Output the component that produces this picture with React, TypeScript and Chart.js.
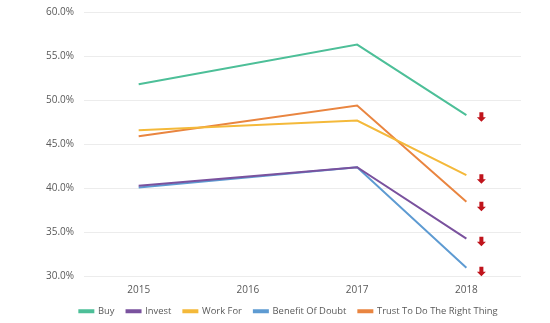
import React, { useEffect, useRef } from "react";
import { Chart, registerables } from "chart.js";

Chart.register(...registerables);

const years = ["2015", "2016", "2017", "2018"];
const buy = [51.8, null, 56.3, 48.3];
const invest = [40.3, null, 42.4, 34.3];
const workFor = [46.6, null, 47.7, 41.5];
const benefitOfDoubt = [40.1, null, 42.4, 31.0];
const trustRight = [45.9, null, 49.4, 38.5];
const arrowOffsets = [2, 3, 4, 4, 5];

const seriesNames = ["Buy", "Invest", "Work For", "Benefit Of Doubt", "Trust To Do The Right Thing"];
const seriesColors = ["#4dbf98", "#7a529e", "#f4b93a", "#5e9bd2", "#e98540"];

const arrowPlugin = {
  id: "downArrows",
  afterDatasetsDraw(chart: any) {
    const ctx = chart.ctx;
    const xs = chart.scales.x;
    const ys = chart.scales.y;
    const x = xs.getPixelForValue(3) + 15;
    chart.data.datasets.forEach((ds: any, i: number) => {
      const v = ds.data[3];
      const y = ys.getPixelForValue(v) + arrowOffsets[i];
      ctx.save();
      ctx.fillStyle = "#c0141c";
      ctx.beginPath();
      ctx.moveTo(x - 2, y - 5);
      ctx.lineTo(x + 2, y - 5);
      ctx.lineTo(x + 2, y);
      ctx.lineTo(x + 4.5, y);
      ctx.lineTo(x, y + 4.5);
      ctx.lineTo(x - 4.5, y);
      ctx.lineTo(x - 2, y);
      ctx.closePath();
      ctx.fill();
      ctx.restore();
    });
  },
};

const legendShiftPlugin = {
  id: "legendShift",
  afterLayout(chart: any) {
    const lg = chart.legend;
    if (lg) {
      lg.left += 10;
      lg.right += 10;
    }
  },
};

export default function App() {
  const ref = useRef<HTMLCanvasElement>(null);
  useEffect(() => {
    const all = [buy, invest, workFor, benefitOfDoubt, trustRight];
    const chart = new Chart(ref.current!, {
      type: "line",
      data: {
        labels: years,
        datasets: all.map((d, i) => ({
          label: seriesNames[i],
          data: d,
          borderColor: seriesColors[i],
          backgroundColor: seriesColors[i],
          borderWidth: 2,
          pointRadius: 0,
          spanGaps: true,
          tension: 0,
        })),
      },
      options: {
        animation: false,
        responsive: false,
        maintainAspectRatio: false,
        layout: { padding: { top: 2, right: 29, left: 36, bottom: 1 } },
        scales: {
          x: {
            offset: true,
            grid: { display: false },
            border: { display: false },
            ticks: { color: "#595959", font: { family: "Open Sans", size: 10 }, padding: 0 },
            afterFit: (scale: any) => {
              scale.height = 18;
            },
          },
          y: {
            min: 30,
            max: 60,
            border: { display: false },
            grid: { color: "#ececec", lineWidth: 1, drawTicks: false },
            ticks: {
              stepSize: 5,
              color: "#595959",
              padding: 10,
              font: { family: "Open Sans", size: 10 },
              callback: (v: any) => Number(v).toFixed(1) + "%",
            },
          },
        },
        plugins: {
          legend: {
            position: "bottom",
            labels: {
              color: "#595959",
              font: { family: "Open Sans", size: 9.4 },
              boxWidth: 14,
              boxHeight: 2,
              padding: 12,
            },
          },
          tooltip: { enabled: false },
        },
      },
      plugins: [arrowPlugin, legendShiftPlugin],
    });
    return () => chart.destroy();
  }, []);
  return (
    <div style={{ position: "absolute", left: 0, top: 0, width: 550, height: 323, overflow: "hidden", background: "#fff" }}>
      <canvas
        ref={ref}
        width={550}
        height={331}
        style={{ position: "absolute", left: 0, top: -4, width: 550, height: 331 }}
      />
    </div>
  );
}
